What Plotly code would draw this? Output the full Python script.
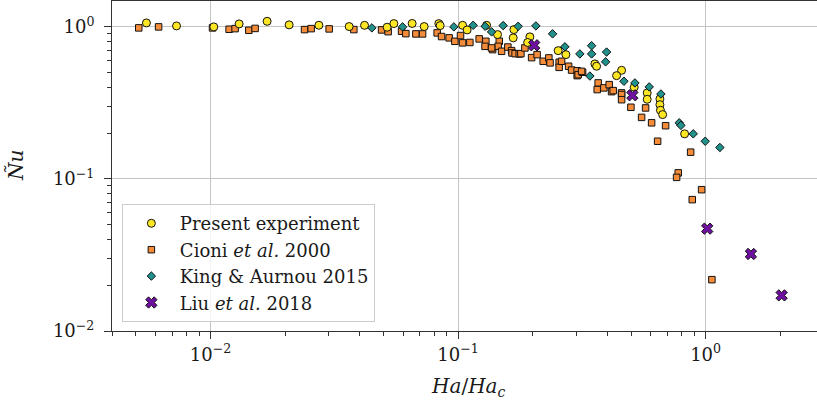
import plotly.graph_objects as go
import math

# ---------------- data ----------------
present_x = [0.00551, 0.00729, 0.01031, 0.01305, 0.01693, 0.02078, 0.0274, 0.03631, 0.0419,
             0.0517, 0.05503, 0.06524, 0.07295, 0.08364, 0.08466, 0.1043, 0.1088, 0.1304,
             0.1444, 0.1681, 0.167, 0.195, 0.191, 0.2537, 0.2726, 0.357, 0.3627, 0.4577,
             0.4369, 0.5146, 0.5808, 0.5808, 0.6537, 0.6537, 0.657, 0.6703, 0.8225]
present_y = [1.062, 1.015, 1.0, 1.046, 1.088, 1.031, 1.025, 1.005, 1.024,
             0.995, 1.051, 1.053, 1.005, 1.051, 1.02, 1.024, 0.955, 1.024,
             0.89, 0.96, 0.847, 0.86, 0.79, 0.698, 0.657, 0.571, 0.551, 0.518,
             0.478, 0.401, 0.368, 0.334, 0.336, 0.308, 0.283, 0.265, 0.198]

cioni_x = [0.00513, 0.00617, 0.01019, 0.01189, 0.01257, 0.01428, 0.01514, 0.02398, 0.0255,
           0.03015, 0.03793, 0.04909, 0.05219, 0.05912, 0.06153, 0.06753, 0.07189, 0.08233,
           0.08577, 0.09204, 0.09707, 0.1023, 0.1043, 0.1116, 0.1217, 0.1295, 0.1285,
           0.1379, 0.1467, 0.1452, 0.1366, 0.1499, 0.1589, 0.1645, 0.1652, 0.170, 0.1766,
           0.1794, 0.1862, 0.1982, 0.2086, 0.2207, 0.2327, 0.2353, 0.2561, 0.2561, 0.2619,
           0.2796, 0.2875, 0.3028, 0.3028, 0.3057, 0.3184, 0.3155, 0.3681, 0.3648, 0.3881,
           0.4078, 0.417, 0.4233, 0.4577, 0.4577, 0.4577, 0.4991, 0.5722, 0.5513, 0.6051,
           0.6892, 0.6399, 0.87, 0.7751, 0.7635, 0.9634, 0.8831, 1.06]
cioni_y = [0.985, 1.0, 0.985, 0.965, 0.974, 0.95, 0.977, 0.96, 0.974,
           0.97, 0.96, 0.955, 0.93, 0.936, 0.903, 0.899, 0.899, 0.913,
           0.864, 0.847, 0.804, 0.877, 0.785, 0.79, 0.834, 0.804, 0.745,
           0.709, 0.804, 0.745, 0.727, 0.691, 0.737, 0.698, 0.674, 0.667, 0.664,
           0.667, 0.727, 0.628, 0.657, 0.594, 0.625, 0.58, 0.585, 0.542, 0.594,
           0.551, 0.52, 0.515, 0.478, 0.485, 0.503, 0.51, 0.428, 0.387, 0.397,
           0.417, 0.375, 0.381, 0.368, 0.359, 0.332, 0.296, 0.293, 0.254, 0.234,
           0.224, 0.177, 0.150, 0.1096, 0.1024, 0.085, 0.0731, 0.02176]

king_x = [0.04485, 0.05968, 0.09616, 0.1151, 0.1287, 0.1366, 0.1521, 0.1749, 0.2062,
          0.2409, 0.2701, 0.3105, 0.3463, 0.3463, 0.3981, 0.3945, 0.3408, 0.4677,
          0.518, 0.5917, 0.6598, 0.7823, 0.7948, 0.8913, 0.9963, 1.142]
king_y = [0.985, 1.0, 1.0, 1.024, 1.009, 0.927, 1.02, 1.009, 1.015,
          0.90, 0.74, 0.664, 0.752, 0.664, 0.683, 0.589, 0.475, 0.439,
          0.428, 0.403, 0.362, 0.234, 0.225, 0.198, 0.177, 0.161]

liu_x = [0.203, 0.506, 1.015, 1.524, 2.028]
liu_y = [0.757, 0.355, 0.0471, 0.0321, 0.01715]

x_range = [0.004, 2.818]
y_range = [0.01, 1.48]
major_vals = [0.01, 0.1, 1]
major_text = ["10<sup>−2</sup>", "10<sup>−1</sup>", "10<sup>0</sup>"]
x_minor = [m * d for d in (0.001, 0.01, 0.1, 1) for m in range(2, 10) if 0.004 <= m * d <= 2.8]
y_minor = [m * d for d in (0.01, 0.1) for m in range(2, 10)]

# ---------------- figure ----------------
FONT = "DejaVu Serif"
TXT = "#1a1a1a"
edge = dict(color="#111111", width=1)

fig = go.Figure()
fig.add_trace(go.Scatter(x=cioni_x, y=cioni_y, mode="markers", name="Cioni <i>et al.</i> 2000",
                         legendrank=2,
                         marker=dict(symbol="square", size=6.5, color="#F58C3A", line=edge)))
fig.add_trace(go.Scatter(x=present_x, y=present_y, mode="markers", name="Present experiment",
                         legendrank=1,
                         marker=dict(symbol="circle", size=8, color="#FDE725", line=edge)))
fig.add_trace(go.Scatter(x=king_x, y=king_y, mode="markers", name="King &amp; Aurnou 2015",
                         legendrank=3,
                         marker=dict(symbol="diamond", size=6.5, color="#21918C", line=edge)))
fig.add_trace(go.Scatter(x=liu_x, y=liu_y, mode="markers", name="Liu <i>et al.</i> 2018",
                         legendrank=4,
                         marker=dict(symbol="x", size=10, color="#7010A0", line=edge)))

axis_common = dict(
    type="log", showline=True, linecolor="#333333", linewidth=1,
    showgrid=True, gridcolor="#c4c4c4", gridwidth=1, zeroline=False,
    ticks="outside", ticklen=7, tickwidth=1, tickcolor="#333333",
    tickmode="array", tickvals=major_vals, ticktext=major_text,
    tickfont=dict(family=FONT, size=18, color=TXT),
)

fig.update_layout(
    width=817, height=407,
    margin=dict(l=112, r=0, t=1, b=76),
    paper_bgcolor="white", plot_bgcolor="white",
    font=dict(family=FONT, size=18, color=TXT),
    showlegend=True,
    legend=dict(x=0.014, y=0.027, xanchor="left", yanchor="bottom",
                bgcolor="rgba(255,255,255,0.8)", bordercolor="#cccccc", borderwidth=1,
                font=dict(family=FONT, size=18, color=TXT),
                itemwidth=47, tracegroupgap=0),
    xaxis=dict(**axis_common, mirror=True,
               range=[math.log10(x_range[0]), math.log10(x_range[1])],
               minor=dict(tickvals=x_minor, ticks="outside", ticklen=4, tickwidth=1,
                          tickcolor="#333333", showgrid=False)),
    yaxis=dict(**axis_common, mirror=False, ticklabelstandoff=6,
               range=[math.log10(y_range[0]), math.log10(y_range[1])],
               minor=dict(tickvals=y_minor, ticks="outside", ticklen=4, tickwidth=1,
                          tickcolor="#333333", showgrid=False)),
    annotations=[
        dict(text="<i>Ha</i>/<i>Ha</i><sub><i>c</i></sub>", xref="paper", yref="paper",
             x=0.505, y=-0.17, xanchor="center", yanchor="middle", showarrow=False,
             font=dict(family=FONT, size=20, color=TXT)),
        dict(text="<i>Ñu</i>", xref="paper", yref="paper", textangle=-90,
             x=-0.136, y=0.5, xanchor="center", yanchor="middle", showarrow=False,
             font=dict(family=FONT, size=20, color=TXT)),
    ],
)

fig.write_html("out.html")
